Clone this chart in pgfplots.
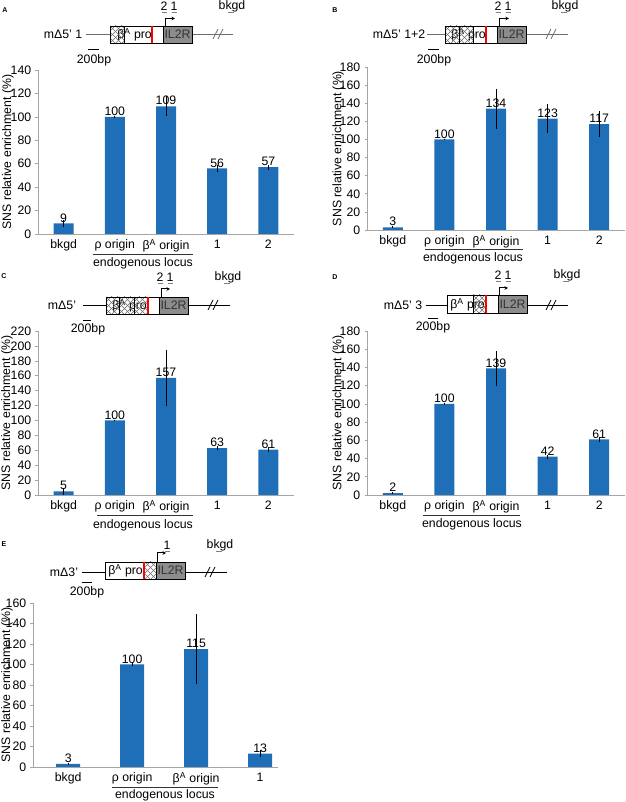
\documentclass[border=0pt]{standalone}
\usepackage{fontspec}
\setmainfont{Liberation Sans}
\usepackage{pgfplots}
\pgfplotsset{compat=1.18}
\usetikzlibrary{arrows.meta}
\definecolor{barblue}{RGB}{31,110,184}
\definecolor{boxgray}{RGB}{140,140,140}
\definecolor{axgray}{RGB}{165,165,165}
\definecolor{bbgray}{RGB}{110,110,110}
\pgfplotsset{
  /pgf/number format/assume math mode=true,
  snsaxis/.style={
    scale only axis, anchor=south west,
    ybar, bar width=20pt,
    axis x line*=bottom, axis y line*=left,
    axis line style={axgray, line width=0.8pt},
    ymin=0, xmin=-0.5, xmax=4.5,
    xtick={0,...,4},
    xtick style={draw=none},
    ytick style={axgray, line width=0.6pt},
    tick align=outside, major tick length=2.5pt,
    xticklabel style={yshift=-2pt, inner sep=1pt},
    nodes near coords,
    every node near coord/.append style={black, inner sep=1pt, anchor=south},
    ylabel={SNS relative enrichment (\%)},
    ylabel style={anchor=center},
    clip=false,
  },
  snsplot/.style={fill=barblue, draw=none,
    error bars/.cd, y dir=both, y explicit, error mark=none,
    error bar style={black, line width=0.8pt}},
}
\newcommand{\hatchbox}[4]{%
  \begin{scope}
  \clip (#1,#3) rectangle (#2,#4);
  \foreach \k in {-24,-18,...,18} {
    \draw[gray!85!black, line width=0.5pt] (#1+\k,#3)--++(24,24);
    \draw[gray!85!black, line width=0.5pt] (#1+\k,#4)--++(24,-24);
  }
  \end{scope}}
\begin{document}
\fontsize{12.3}{14.5}\selectfont
\begin{tikzpicture}
\path[use as bounding box] (0pt,0pt) rectangle (625pt,802pt);

% ---------- Panel A ----------
\begin{axis}[snsaxis, at={(38pt,568pt)}, width=256pt, height=164pt,
  ymax=140, ytick={0,20,...,140},
  xticklabels={bkgd,{ρ origin},{β\textsuperscript{A} origin},1,2},
  ylabel style={at={(axis description cs:-0.117,0.5)}}]
\addplot[snsplot] table[x=x,y=y,y error=e]{
x y e
0 9 3
1 100 1
2 109 8.5
3 56 3
4 57 2
};
\end{axis}

% ---------- Panel B ----------
\begin{axis}[snsaxis, at={(367pt,572pt)}, width=258pt, height=163pt,
  ymax=180, ytick={0,20,...,180},
  xticklabels={bkgd,{ρ origin},{β\textsuperscript{A} origin},1,2},
  ylabel style={at={(axis description cs:-0.112,0.5)}}]
\addplot[snsplot] table[x=x,y=y,y error=e]{
x y e
0 3 1
1 100 1
2 134 22
3 123 16
4 117 14
};
\end{axis}

% ---------- Panel C ----------
\begin{axis}[snsaxis, at={(38pt,307pt)}, width=256pt, height=164pt,
  ymax=220, ytick={0,20,...,220},
  xticklabels={bkgd,{ρ origin},{β\textsuperscript{A} origin},1,2},
  ylabel style={at={(axis description cs:-0.121,0.5)}}]
\addplot[snsplot] table[x=x,y=y,y error=e]{
x y e
0 5 4.5
1 100 1
2 157 37.5
3 63 3
4 61 3
};
\end{axis}

% ---------- Panel D ----------
\begin{axis}[snsaxis, at={(367pt,307pt)}, width=258pt, height=164pt,
  ymax=180, ytick={0,20,...,180},
  xticklabels={bkgd,{ρ origin},{β\textsuperscript{A} origin},1,2},
  ylabel style={at={(axis description cs:-0.112,0.5)}}]
\addplot[snsplot] table[x=x,y=y,y error=e]{
x y e
0 2 1
1 100 1
2 139 19
3 42 2
4 61 3
};
\end{axis}

% ---------- Panel E ----------
\begin{axis}[snsaxis, at={(33pt,35pt)}, width=245pt, height=164pt,
  xmin=-0.55, xmax=3.28, bar width=24pt,
  ymax=160, ytick={0,20,...,160}, xtick={0,...,3},
  xticklabels={bkgd,{ρ origin},{β\textsuperscript{A} origin},1},
  ylabel style={at={(axis description cs:-0.106,0.5)}}]
\addplot[snsplot] table[x=x,y=y,y error=e]{
x y e
0 3 1
1 100 1
2 115 34.5
3 13 3.5
};
\end{axis}

% ---------- Diagrams (pixel coordinates, y downward) ----------
\begin{scope}[x=1pt,y=-1pt,shift={(0pt,802pt)}]
\tikzset{lbl/.style={inner sep=0pt}}
% endogenous locus brackets
\draw[black!80, line width=0.8pt] (93,254)--(193,254);
\node[lbl] at (143,263) {endogenous locus};
\draw[black!80, line width=0.8pt] (425,249)--(523,249);
\node[lbl] at (473,258) {endogenous locus};
\draw[black!80, line width=0.8pt] (97,515)--(193,515);
\node[lbl] at (143,525) {endogenous locus};
\draw[black!80, line width=0.8pt] (423,515)--(520,515);
\node[lbl] at (472,524) {endogenous locus};
\draw[black!80, line width=0.8pt] (112,787)--(218,787);
\node[lbl] at (165,795) {endogenous locus};

% ===== A =====
\node[font=\bfseries\fontsize{7}{8}\selectfont] at (5,10) {A};
\node[lbl] at (63,34) {mΔ5’ 1};
\draw[bbgray, line width=0.9pt] (86,34)--(233,34);
\fill[white] (110,26) rectangle (192,43);
\node[anchor=base east, inner sep=0pt] at (152,38.5) {β\textsuperscript{A} pro};
\hatchbox{110}{124}{26}{43}
\fill[boxgray] (163,26) rectangle (192,43);
\node[anchor=base, inner sep=0pt, black!80] at (177.5,38.5) {IL2R};
\draw[line width=0.6pt] (110,26) rectangle (192,43) (124,26)--(124,43) (163,26)--(163,43);
\draw[red, line width=1.6pt] (152,26.4)--(152,42.6);
\draw[line width=1pt, -{Stealth[length=3.5pt,width=3.5pt]}] (165,26)--(165,18.5)--(175,18.5);
\node[lbl] at (164,6) {2}; \node[lbl] at (174,6) {1};
\draw[gray, line width=0.8pt] (161.5,12)--(166.5,12) (171.5,12)--(176.5,12);
\node[lbl] at (232,6) {bkgd};
\draw[gray, line width=0.8pt] (228,12)--(234,12);
\draw[bbgray, line width=0.8pt] (213,39)--(218,29) (218,39)--(223,29);
\draw[black, line width=0.8pt] (88,49)--(99,49);
\node[lbl] at (94,60) {200bp};

% ===== B =====
\node[font=\bfseries\fontsize{7}{8}\selectfont] at (335,10) {B};
\node[lbl] at (399,34) {mΔ5’ 1+2};
\draw[bbgray, line width=0.9pt] (427,34)--(568,34);
\fill[white] (445,26) rectangle (526,43);
\node[anchor=base east, inner sep=0pt] at (486,38.5) {β\textsuperscript{A} pro};
\hatchbox{445}{459}{26}{43}
\hatchbox{459}{473}{26}{43}
\fill[boxgray] (497,26) rectangle (526,43);
\node[anchor=base, inner sep=0pt, black!80] at (511.5,38.5) {IL2R};
\draw[line width=0.6pt] (445,26) rectangle (526,43) (459,26)--(459,43) (473,26)--(473,43) (497,26)--(497,43);
\draw[red, line width=1.6pt] (486,26.4)--(486,42.6);
\draw[line width=1pt, -{Stealth[length=3.5pt,width=3.5pt]}] (499,26)--(499,18.5)--(509,18.5);
\node[lbl] at (498,6) {2}; \node[lbl] at (508,6) {1};
\draw[gray, line width=0.8pt] (495.5,12)--(500.5,12) (505.5,12)--(510.5,12);
\node[lbl] at (565,6) {bkgd};
\draw[gray, line width=0.8pt] (561,12)--(567,12);
\draw[bbgray, line width=0.8pt] (546,39)--(551,29) (551,39)--(556,29);
\draw[black, line width=0.8pt] (428,49)--(439,49);
\node[lbl] at (434,60) {200bp};

% ===== C =====
\node[font=\bfseries\fontsize{7}{8}\selectfont] at (4,276) {C};
\node[lbl] at (62,305) {mΔ5’};
\draw[black, line width=0.9pt] (83,305)--(230,305);
\fill[white] (106,297) rectangle (188,314);
\node[anchor=base east, inner sep=0pt] at (147,309.5) {β\textsuperscript{A} pro};
\hatchbox{106}{119}{297}{314}
\hatchbox{119}{134}{297}{314}
\hatchbox{134}{147}{297}{314}
\fill[boxgray] (159,297) rectangle (188,314);
\node[anchor=base, inner sep=0pt, black!80] at (173.5,309.5) {IL2R};
\draw[line width=0.6pt] (106,297) rectangle (188,314) (119,297)--(119,314) (134,297)--(134,314) (147,297)--(147,314) (159,297)--(159,314);
\draw[red, line width=1.6pt] (148,297.4)--(148,313.6);
\draw[line width=1pt, -{Stealth[length=3.5pt,width=3.5pt]}] (161,297)--(161,289)--(170,289);
\node[lbl] at (160,277) {2}; \node[lbl] at (170,277) {1};
\draw[gray, line width=0.8pt] (157.5,283)--(162.5,283) (167.5,283)--(172.5,283);
\node[lbl] at (228,277) {bkgd};
\draw[gray, line width=0.8pt] (224,283)--(230,283);
\draw[black, line width=0.8pt] (208,310)--(213,300) (213,310)--(218,300);
\draw[black, line width=0.8pt] (83,320)--(91,320);
\node[lbl] at (88,329) {200bp};

% ===== D =====
\node[font=\bfseries\fontsize{7}{8}\selectfont] at (335,277) {D};
\node[lbl] at (403,305) {mΔ5’ 3};
\draw[black, line width=0.9pt] (426,305)--(568,305);
\fill[white] (447,295) rectangle (527,313);
\node[anchor=base east, inner sep=0pt] at (485,308.5) {β\textsuperscript{A} pro};
\hatchbox{473}{485}{295}{313}
\fill[boxgray] (498,295) rectangle (527,313);
\node[anchor=base, inner sep=0pt, black!80] at (512.5,308.5) {IL2R};
\draw[line width=0.6pt] (447,295) rectangle (527,313) (473,295)--(473,313) (498,295)--(498,313);
\draw[red, line width=1.6pt] (486,295.4)--(486,312.6);
\draw[line width=1pt, -{Stealth[length=3.5pt,width=3.5pt]}] (499,295)--(499,288)--(508,288);
\node[lbl] at (498,275) {2}; \node[lbl] at (508,275) {1};
\draw[gray, line width=0.8pt] (495.5,281)--(500.5,281) (505.5,281)--(510.5,281);
\node[lbl] at (567,275) {bkgd};
\draw[gray, line width=0.8pt] (563,281)--(569,281);
\draw[black, line width=0.8pt] (546,310)--(551,300) (551,310)--(556,300);
\draw[black, line width=0.8pt] (428,318)--(438,318);
\node[lbl] at (433,327) {200bp};

% ===== E =====
\node[font=\bfseries\fontsize{7}{8}\selectfont] at (4,544) {E};
\node[lbl] at (64,572) {mΔ3’};
\draw[black, line width=0.9pt] (82,572)--(227,572);
\fill[white] (105,562) rectangle (185,579);
\node[anchor=base east, inner sep=0pt] at (143,575) {β\textsuperscript{A} pro};
\hatchbox{145}{156}{562}{579}
\fill[boxgray] (156,562) rectangle (185,579);
\node[anchor=base, inner sep=0pt, black!80] at (170.5,575) {IL2R};
\draw[line width=0.6pt] (105,562) rectangle (185,579) (156,562)--(156,579);
\draw[red, line width=1.6pt] (144,562.4)--(144,578.6);
\draw[line width=1pt, -{Stealth[length=3.5pt,width=3.5pt]}] (157,562)--(157,553)--(166,553);
\node[lbl] at (167,545) {1};
\draw[gray, line width=0.8pt] (164.5,551)--(169.5,551);
\node[lbl] at (220,545) {bkgd};
\draw[gray, line width=0.8pt] (216,551)--(222,551);
\draw[black, line width=0.8pt] (205,577)--(210,567) (210,577)--(215,567);
\draw[black, line width=0.8pt] (82,582)--(92,582);
\node[lbl] at (87,592) {200bp};
\end{scope}
\end{tikzpicture}
\end{document}
